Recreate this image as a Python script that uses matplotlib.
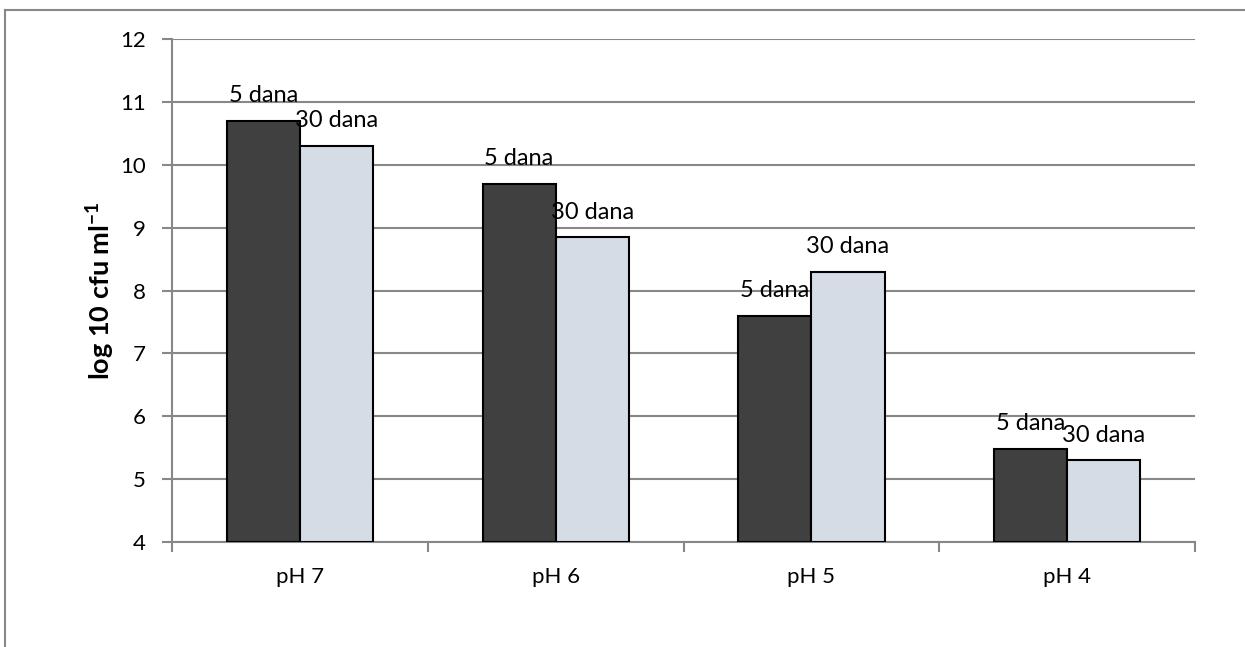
import numpy as np
import matplotlib.pyplot as plt
from matplotlib.lines import Line2D

kategorije = ['pH 7', 'pH 6', 'pH 5', 'pH 4']
dana5 = [10.7, 9.7, 7.6, 5.48]
dana30 = [10.3, 8.85, 8.3, 5.3]
oznake = ['5 dana', '30 dana']

plt.rcParams['font.family'] = ['Lato', 'DejaVu Sans']
plt.rcParams['mathtext.fontset'] = 'custom'
plt.rcParams['mathtext.rm'] = 'Lato'
plt.rcParams['mathtext.bf'] = 'Lato:bold'


def main():
    fig = plt.figure(figsize=(12.45, 6.47), dpi=100)
    ax = fig.add_axes([0.1382, 0.1623, 0.8216, 0.7774])

    x = np.arange(len(kategorije)) + 0.5
    w = 0.286
    b1 = ax.bar(x - w / 2, np.array(dana5) - 4, w, bottom=4, color='#404040',
                edgecolor='black', linewidth=1.5, zorder=3)
    b2 = ax.bar(x + w / 2, np.array(dana30) - 4, w, bottom=4, color='#d5dce5',
                edgecolor='black', linewidth=1.5, zorder=3)

    # oznake iznad stupaca
    for bars, vals, txt in zip([b1, b2], [dana5, dana30], oznake):
        for r, v in zip(bars, vals):
            ax.annotate(txt, (r.get_x() + r.get_width() / 2, v),
                        xytext=(0, 18), textcoords='offset points',
                        ha='center', va='center', fontsize=17, zorder=4)

    ax.set_xlim(0, 4)
    ax.set_ylim(4, 12)
    ax.set_yticks(range(4, 13))
    ax.set_xticks(x)
    ax.set_xticklabels(kategorije)
    ax.set_xticks(np.arange(0, 5), minor=True)
    ax.tick_params(axis='x', which='major', length=0, pad=18, labelsize=16)
    ax.tick_params(axis='x', which='minor', length=7, color='#888888', width=1.5)
    ax.tick_params(axis='y', length=7, color='#888888', width=1.5, labelsize=16, pad=12)

    ax.grid(axis='y', color='#888888', linewidth=1.5, zorder=0)
    for s in ['top', 'right']:
        ax.spines[s].set_visible(False)
    for s in ['left', 'bottom']:
        ax.spines[s].set_color('#888888')
        ax.spines[s].set_linewidth(1.5)

    ax.set_ylabel(r'log 10 cfu ml$^{\mathbf{-1}}$', fontsize=19.5, fontweight='bold', labelpad=2)

    # okvir grafikona
    fig.add_artist(Line2D([5 / 1245, 1], [1 - 10 / 647] * 2, color='#888888', linewidth=1.5))
    fig.add_artist(Line2D([5 / 1245] * 2, [0, 1 - 10 / 647], color='#888888', linewidth=1.5))

    fig.savefig('out.png', dpi=100)


if __name__ == "__main__": main()
